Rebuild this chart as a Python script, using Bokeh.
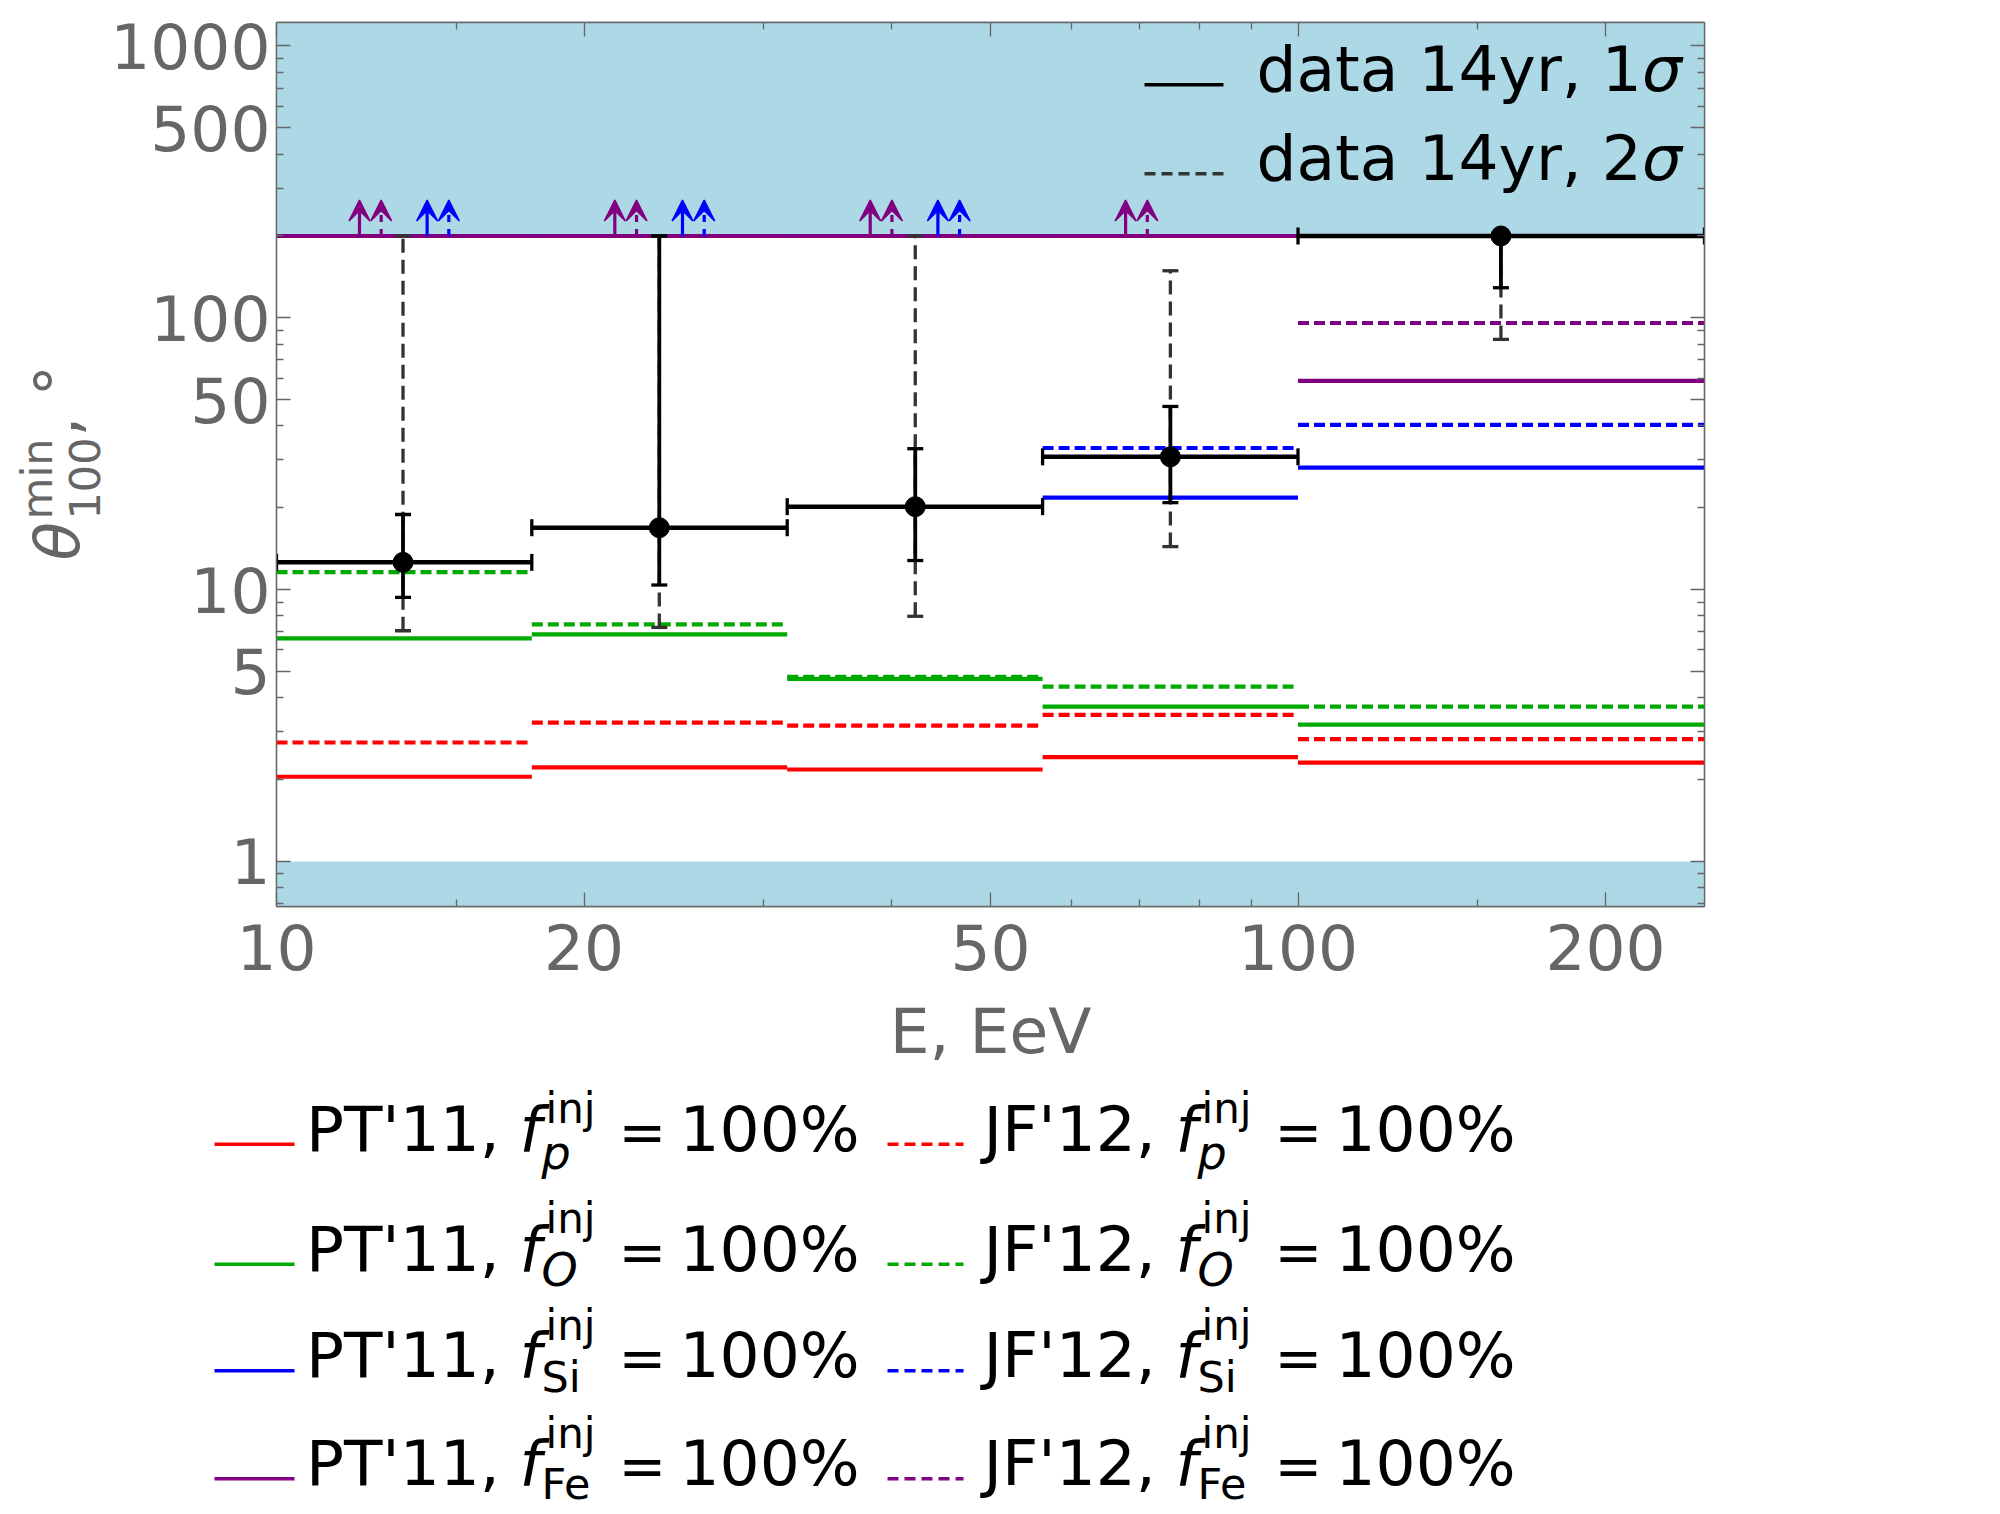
import math
from bokeh.plotting import figure
from bokeh.models import (Range1d, LogAxis, FixedTicker, NumeralTickFormatter, BoxAnnotation,
                          Arrow, VeeHead, ColumnDataSource, CustomJSTickFormatter)
from bokeh.embed import file_html
from bokeh.resources import INLINE
from bokeh.core.properties import value

# ---------------- data ----------------
E_edges = [10.0, 17.78, 31.62, 56.23, 100.0, 250.0]      # EeV bin edges
E_center = [13.3, 23.7, 42.2, 75.0, 158.0]               # EeV
theta_data = [12.6, 16.9, 20.2, 30.8, 200.0]             # deg
sig1_lo = [9.37, 10.4, 12.8, 20.9, 129.0]
sig1_hi = [18.9, 200.0, 33.0, 47.2, 200.0]
sig2_lo = [7.06, 7.26, 7.98, 14.4, 83.3]
sig2_hi = [200.0, 200.0, 200.0, 149.0, 200.0]

pt11_p = [2.05, 2.22, 2.18, 2.42, 2.31]
jf12_p = [2.74, 3.24, 3.16, 3.46, 2.82]
pt11_O = [6.62, 6.85, 4.70, 3.71, 3.19]
jf12_O = [11.6, 7.45, 4.78, 4.40, 3.71]
pt11_Si = [200.0, 200.0, 200.0, 21.8, 28.1]
jf12_Si = [200.0, 200.0, 200.0, 33.2, 40.4]
pt11_Fe = [200.0, 200.0, 200.0, 200.0, 58.6]
jf12_Fe = [200.0, 200.0, 200.0, 200.0, 95.7]

theta_cap = 200.0     # shaded region above (scan limit)
theta_floor = 1.0     # shaded region below

x_ticks = [10, 20, 50, 100, 200]
x_minor = [15, 30, 40, 60, 70, 80, 90, 150]
y_ticks = [1, 5, 10, 50, 100, 500, 1000]
y_minor = [0.7, 0.8, 0.9, 2, 3, 4, 6, 7, 8, 9, 20, 30, 40, 60, 70, 80, 90,
           200, 300, 400, 600, 700, 800, 900]

models = ["PT'11,", "JF'12,"]
species = ["p", "O", "Si", "Fe"]
species_italic = [True, True, False, False]
sup_text = "inj"
eq_text = "="
pct_text = "100%"
data_labels = ["data 14yr, 1", "data 14yr, 2"]

# ---------------- styles / layout ----------------
FONT = "DejaVu Sans"
GREY = "#666666"
DGREY = "#333333"
RED, GREEN, BLUE, PURPLE = "#FF0000", "#00AA00", "#0000FF", "#800080"
BAND = "#ADD8E6"
X0, X1 = 10.0, 250.0
Y0, Y1 = 0.683, 1220.0
FW, FH = 1428, 884
BL, BT, BR, BB = 276, 22, 60, 602
FS = 63
BASE_CORR = 0.38      # em shift applied to reach the alphabetic baseline

p = figure(x_axis_type="log", y_axis_type="log",
           x_range=Range1d(X0, X1), y_range=Range1d(Y0, Y1),
           frame_width=FW, frame_height=FH,
           min_border_left=BL, min_border_top=BT, min_border_right=BR, min_border_bottom=BB,
           output_backend="svg", toolbar_location=None)
p.grid.visible = False
p.outline_line_color = GREY
p.outline_line_width = 1.3
p.background_fill_color = "white"
p.border_fill_color = "white"


def style_axis(ax, ticks, minor, show_labels):
    ax.ticker = FixedTicker(ticks=ticks, minor_ticks=minor)
    ax.axis_line_color = GREY
    ax.axis_line_width = 1.3
    ax.major_tick_line_color = GREY
    ax.minor_tick_line_color = GREY
    ax.major_tick_line_width = 1.3
    ax.minor_tick_line_width = 1.3
    ax.major_tick_in = 14
    ax.major_tick_out = 0
    ax.minor_tick_in = 7
    ax.minor_tick_out = 0
    if show_labels:
        ax.formatter = NumeralTickFormatter(format="0")
        ax.major_label_text_font = FONT
        ax.major_label_text_font_size = "%dpx" % FS
        ax.major_label_text_color = GREY
    else:
        ax.formatter = CustomJSTickFormatter(code="return ''")
        ax.major_label_text_font_size = "2px"
        ax.major_label_standoff = 0


xa = p.xaxis[0]
ya = p.yaxis[0]
style_axis(xa, x_ticks, x_minor, True)
style_axis(ya, y_ticks, y_minor, True)
xa.major_label_standoff = 17
ya.major_label_standoff = 6
xa.axis_label = "E, EeV"
xa.axis_label_text_font = FONT
xa.axis_label_text_font_size = "%dpx" % FS
xa.axis_label_text_font_style = "normal"
xa.axis_label_text_color = GREY
xa.axis_label_standoff = 22

top = LogAxis()
style_axis(top, x_ticks, x_minor, False)
p.add_layout(top, "above")
right = LogAxis()
style_axis(right, y_ticks, y_minor, False)
p.add_layout(right, "right")

# shaded regions
p.add_layout(BoxAnnotation(bottom=theta_cap, fill_color=BAND, fill_alpha=1.0,
                           line_color=None, level="underlay"))
p.add_layout(BoxAnnotation(top=theta_floor, fill_color=BAND, fill_alpha=1.0,
                           line_color=None, level="underlay"))

# model step lines
lo_e, hi_e = E_edges[:-1], E_edges[1:]
MDASH = "11 5"
series = [
    (pt11_p, RED, "solid"), (jf12_p, RED, MDASH),
    (pt11_O, GREEN, "solid"), (jf12_O, GREEN, MDASH),
    (pt11_Si, BLUE, "solid"), (jf12_Si, BLUE, MDASH),
    (pt11_Fe, PURPLE, "solid"), (jf12_Fe, PURPLE, MDASH),
]
for vals, col, dash in series:
    p.segment(x0=lo_e, x1=hi_e, y0=vals, y1=vals, line_color=col, line_width=4.2,
              line_dash=dash)

# lower-limit arrows where the model reaches the scan limit
arrow_len_dec = 0.1325
arrow_series = [(pt11_Fe, PURPLE, "solid", 0.325), (jf12_Fe, PURPLE, "7 7", 0.41),
                (pt11_Si, BLUE, "solid", 0.59), (jf12_Si, BLUE, "7 7", 0.675)]
for vals, col, dash, frac in arrow_series:
    xs, ys0, ys1 = [], [], []
    for i, v in enumerate(vals):
        if v >= theta_cap:
            lo, hi = E_edges[i], E_edges[i + 1]
            xs.append(lo * (hi / lo) ** frac)
            ys0.append(v)
            ys1.append(v * 10 ** arrow_len_dec)
    src = ColumnDataSource(dict(x=xs, y0=ys0, y1=ys1))
    p.add_layout(Arrow(end=VeeHead(size=21, fill_color=col, line_color=col, line_width=1.5),
                       source=src, x_start="x", y_start="y0", x_end="x", y_end="y1",
                       line_color=col, line_width=3.2, line_dash=dash))

# data: 2 sigma, then 1 sigma error bars
p.segment(x0=E_center, x1=E_center, y0=sig2_lo, y1=sig2_hi, line_color=DGREY,
          line_width=3.3, line_dash="14 7")
p.scatter(x=E_center + E_center, y=sig2_lo + sig2_hi, marker="dash", size=16,
          line_color=DGREY, line_width=3.3)
p.segment(x0=E_center, x1=E_center, y0=sig1_lo, y1=sig1_hi, line_color="black",
          line_width=3.8)
p.scatter(x=E_center + E_center, y=sig1_lo + sig1_hi, marker="dash", size=16,
          line_color="black", line_width=3.3)
# bin widths
p.segment(x0=lo_e, x1=hi_e, y0=theta_data, y1=theta_data, line_color="black", line_width=4.5)
p.scatter(x=lo_e + hi_e, y=theta_data + theta_data, marker="dash", angle=math.pi / 2,
          size=17, line_color="black", line_width=3.3)
p.scatter(x=E_center, y=theta_data, size=20, fill_color="black", line_color="black")


# ---------------- legends & y label (canvas-pixel layout -> data coords) ----------------
def to_data(xp, yp):
    lx = math.log10(X0) + (xp - BL) / FW * (math.log10(X1) - math.log10(X0))
    ly = math.log10(Y1) - (yp - BT) / FH * (math.log10(Y1) - math.log10(Y0))
    return 10 ** lx, 10 ** ly


def put_text(xp, yp, txt, size, italic=False, color="black", vertical=False):
    if vertical:
        xp = xp - BASE_CORR * size
    else:
        yp = yp - BASE_CORR * size
    x, y = to_data(xp, yp)
    p.text(x=[x], y=[y], text=[txt], text_font=value(FONT), text_font_size="%dpx" % size,
           text_font_style="italic" if italic else "normal", text_color=color,
           text_align="left", text_baseline="alphabetic",
           angle=math.pi / 2 if vertical else 0.0, level="overlay")


def put_line(xp0, xp1, yp, color, dash, width=3.5):
    x0, y = to_data(xp0, yp)
    x1, _ = to_data(xp1, yp)
    p.segment(x0=[x0], x1=[x1], y0=[y], y1=[y], line_color=color, line_width=width,
              line_dash=dash, level="overlay")


# inside legend
leg_rows = [(84.3, 92.7, "solid", "black"), (173.3, 181.7, "11 6", DGREY)]
for (ly, bl, dash, col), lab in zip(leg_rows, data_labels):
    put_line(1144, 1223, ly, col, dash)
    put_text(1256, bl, lab, FS)
    put_text(1256 + 6.118 * FS, bl, "σ", FS, italic=True)

# y axis label
put_text(81, 560, "θ", FS, italic=True, color=GREY, vertical=True)
put_text(53, 519, "min", 43, color=GREY, vertical=True)
put_text(100, 519, "100", 43, color=GREY, vertical=True)
put_text(81, 436, ", °", FS, color=GREY, vertical=True)

# bottom legend
row_base = [1152.7, 1272.7, 1379.3, 1487.3]
sup_raise = [29, 39, 38, 38]
sub_drop = [17, 14, 14, 13]
col_prefix_x = [305.4, 983.0]
col_f_x = [519.0, 1175.0]
col_sample = [(214, 294), (887, 963)]
colors = [RED, GREEN, BLUE, PURPLE]
for c in range(2):
    for r in range(4):
        b = row_base[r]
        s0, s1 = col_sample[c]
        put_line(s0, s1, b - 9, colors[r], "solid" if c == 0 else "11 6")
        fx = col_f_x[c]
        put_text(col_prefix_x[c], b, models[c], FS)
        put_text(fx, b, "f", FS, italic=True)
        put_text(fx + 22, b + sub_drop[r], species[r], 46 if species_italic[r] else 43,
                 italic=species_italic[r])
        put_text(fx + 26, b - sup_raise[r], sup_text, 42)
        put_text(fx + 99, b, eq_text, 57)
        put_text(fx + 160, b, pct_text, FS)

open("out.html", "w").write(file_html(p, INLINE))
